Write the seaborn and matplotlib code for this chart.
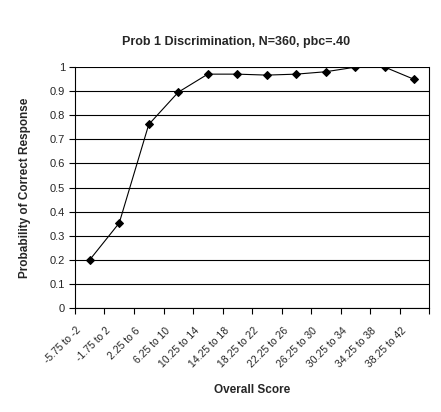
import pandas as pd
import numpy as np
import seaborn as sns
import matplotlib
matplotlib.use('Agg')
import matplotlib.pyplot as plt
from matplotlib.transforms import ScaledTranslation

# Datos
categorias = ['-5.75 to -2', '-1.75 to 2', '2.25 to 6', '6.25 to 10', '10.25 to 14',
              '14.25 to 18', '18.25 to 22', '22.25 to 26', '26.25 to 30', '30.25 to 34',
              '34.25 to 38', '38.25 to 42']
probabilidad = [0.20, 0.353, 0.762, 0.896, 0.971, 0.971, 0.967, 0.971, 0.981, 1.0, 1.0, 0.949]
etiquetas_y = ['0', '0.1', '0.2', '0.3', '0.4', '0.5', '0.6', '0.7', '0.8', '0.9', '1']

data = pd.DataFrame({'pos': range(len(categorias)), 'cat': categorias, 'prob': probabilidad})

sns.set_style('white')
plt.rcParams['font.family'] = ['Liberation Sans', 'DejaVu Sans']

fig = plt.figure(figsize=(4.41, 4.12), dpi=100)
ax = fig.add_axes([0.170, 0.2524, 0.803, 0.5846])

sns.lineplot(data=data, x='pos', y='prob', color='black', lw=0.8, marker='D',
             markersize=4, markeredgecolor='black', sort=False, ax=ax)

ax.set_xlim(-0.5, len(categorias) - 0.5)
ax.set_ylim(0, 1)
ax.set_yticks(np.arange(0, 1.01, 0.1))
ax.set_yticklabels(etiquetas_y, fontsize=8)
ax.yaxis.grid(True, color='black', lw=0.8)
ax.set_axisbelow(True)

ax.set_xticks(data['pos'])
ax.set_xticklabels(categorias, rotation=45, ha='right', va='center', rotation_mode='anchor', fontsize=7.5)
ax.set_xticks(np.arange(-0.5, len(categorias)), minor=True)
ax.tick_params(axis='x', which='major', length=0, pad=15)
ax.tick_params(axis='x', which='minor', length=4, width=0.8, direction='out', color='black', bottom=True)
ax.tick_params(axis='y', length=4, width=0.8, direction='out', color='black', left=True, pad=3)

# Desplazar las etiquetas del eje X un poco a la izquierda
desplazamiento = ScaledTranslation(-0.10, 0, fig.dpi_scale_trans)
for etiqueta in ax.get_xticklabels():
    etiqueta.set_transform(etiqueta.get_transform() + desplazamiento)

for lado in ['left', 'bottom', 'right']:
    ax.spines[lado].set_color('black')
    ax.spines[lado].set_linewidth(0.8)
ax.spines['top'].set_visible(False)

ax.set_xlabel('Overall Score', fontsize=8.5, fontweight='bold')
ax.xaxis.set_label_coords(0.5, -0.315)
ax.set_ylabel('Probability of Correct Response', fontsize=8.5, fontweight='bold')
ax.yaxis.set_label_coords(-0.125, 0.5)
fig.text(0.535, 0.897, 'Prob 1 Discrimination, N=360, pbc=.40', ha='center', va='center',
         fontsize=9, fontweight='bold')

fig.savefig('out.png', dpi=100)
